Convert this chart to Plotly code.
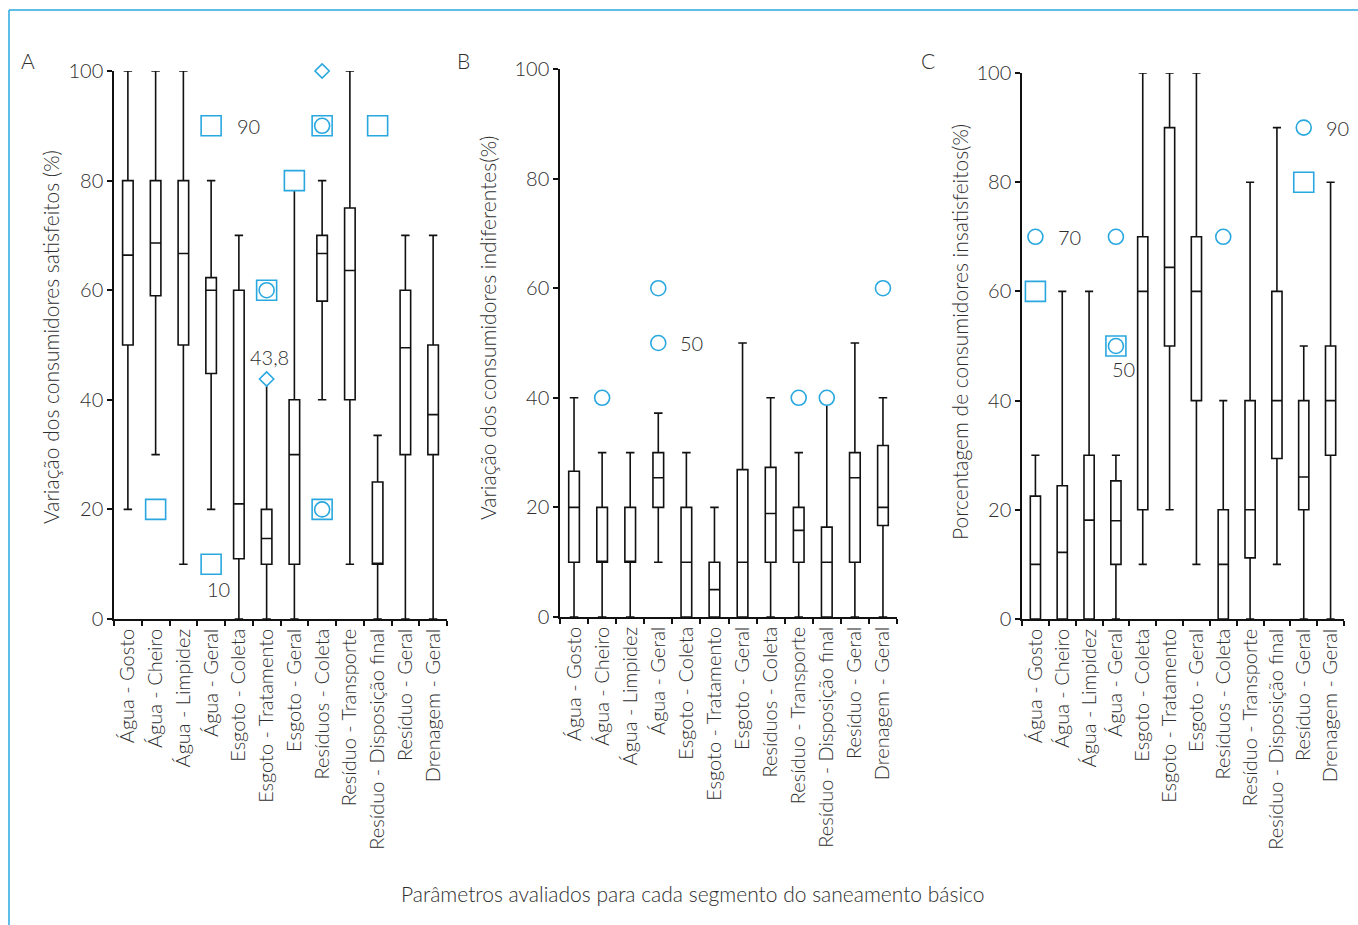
import plotly.graph_objects as go

W, H = 1358, 925

categories = ["Água - Gosto", "Água - Cheiro", "Água - Limpidez", "Água - Geral",
              "Esgoto - Coleta", "Esgoto - Tratamento", "Esgoto - Geral",
              "Resíduos - Coleta", "Resíduo - Transporte", "Resíduo - Disposição final",
              "Resíduo - Geral", "Drenagem - Geral"]

# Panel A - satisfeitos
a_low = [20, 30, 10, 20, 0, 0, 0, 40, 10, 0, 0, 0]
a_q1 = [50, 59, 50, 44.8, 11, 10, 10, 58, 40, 10, 30, 30]
a_med = [66.4, 68.6, 66.7, 60, 21, 14.7, 30, 66.7, 63.6, 10, 49.5, 37.3]
a_q3 = [80, 80, 80, 62.3, 60, 20, 40, 70, 75, 25, 60, 50]
a_high = [100, 100, 100, 80, 70, 43.8, 80, 80, 100, 33.5, 70, 70]
a_out_cat = ["Água - Cheiro", "Água - Geral", "Água - Geral", "Esgoto - Tratamento",
             "Esgoto - Tratamento", "Esgoto - Tratamento", "Esgoto - Geral",
             "Resíduos - Coleta", "Resíduos - Coleta", "Resíduos - Coleta",
             "Resíduos - Coleta", "Resíduos - Coleta", "Resíduo - Disposição final"]
a_out_val = [20, 90, 10, 60, 60, 43.8, 80, 100, 90, 90, 20, 20, 90]
a_out_sym = ["square", "square", "square", "square", "circle", "diamond", "square",
             "diamond", "square", "circle", "square", "circle", "square"]

# Panel B - indiferentes
b_low = [0, 0, 0, 10, 0, 0, 0, 0, 0, 0, 0, 0]
b_q1 = [10, 10, 10, 20, 0, 0, 0, 10, 10, 0, 10, 16.7]
b_med = [20, 10, 10, 25.4, 10, 5, 10, 18.9, 15.8, 10, 25.4, 20]
b_q3 = [26.6, 20, 20, 30, 20, 10, 26.9, 27.3, 20, 16.4, 30, 31.3]
b_high = [40, 30, 30, 37.2, 30, 20, 50, 40, 30, 40, 50, 40]
b_out_cat = ["Água - Cheiro", "Água - Geral", "Água - Geral", "Resíduo - Transporte",
             "Resíduo - Disposição final", "Drenagem - Geral"]
b_out_val = [40, 60, 50, 40, 40, 60]
b_out_sym = ["circle"] * 6

# Panel C - insatisfeitos
c_low = [0, 0, 0, 0, 10, 20, 10, 0, 0, 10, 0, 0]
c_q1 = [0, 0, 0, 10, 20, 50, 40, 0, 11.2, 29.4, 20, 30]
c_med = [10, 12.2, 18.1, 18, 60, 64.4, 60, 10, 20, 40, 26, 40]
c_q3 = [22.5, 24.4, 30, 25.3, 70, 90, 70, 20, 40, 60, 40, 50]
c_high = [30, 60, 60, 30, 100, 100, 100, 40, 80, 90, 50, 80]
c_out_cat = ["Água - Gosto", "Água - Gosto", "Água - Geral", "Água - Geral", "Água - Geral",
             "Resíduos - Coleta", "Resíduo - Geral", "Resíduo - Geral"]
c_out_val = [70, 60, 70, 50, 50, 70, 90, 80]
c_out_sym = ["circle", "square", "circle", "square", "circle", "circle", "circle", "square"]

y_ticks = [0, 20, 40, 60, 80, 100]

BLUE = "#29a8df"
TXT = "#2e2e2e"
FONT = "Lato"
WT = 300

sym_style = {"square": ("square", 20), "circle": ("circle", 15), "diamond": ("diamond", 11)}

fig = go.Figure()

panels = [
    ("x", "y", a_low, a_q1, a_med, a_q3, a_high, a_out_cat, a_out_val, a_out_sym),
    ("x2", "y2", b_low, b_q1, b_med, b_q3, b_high, b_out_cat, b_out_val, b_out_sym),
    ("x3", "y3", c_low, c_q1, c_med, c_q3, c_high, c_out_cat, c_out_val, c_out_sym),
]

for xa, ya, lo, q1, md, q3, hi, oc, ov, osym in panels:
    fig.add_trace(go.Box(
        x=categories, lowerfence=lo, q1=q1, median=md, q3=q3, upperfence=hi,
        xaxis=xa, yaxis=ya, width=0.38, whiskerwidth=0.8,
        line=dict(color="#111111", width=1.6), fillcolor="rgba(255,255,255,0)",
        boxpoints=False, showlegend=False, hoverinfo="skip"))
    for s in ["square", "diamond", "circle"]:
        xs = [c for c, sy in zip(oc, osym) if sy == s]
        vs = [v for v, sy in zip(ov, osym) if sy == s]
        if not xs:
            continue
        sym, size = sym_style[s]
        fig.add_trace(go.Scatter(
            x=xs, y=vs, mode="markers", xaxis=xa, yaxis=ya, cliponaxis=False,
            marker=dict(symbol=sym, size=size, color="white",
                        line=dict(color=BLUE, width=1.6)),
            showlegend=False, hoverinfo="skip"))


def px_x(p):
    return p / W


def px_y(p):
    return 1 - p / H


x_domains = [(114, 447), (560, 897), (1022, 1344)]
y_domains = [(619, 71), (617, 69), (619, 73)]

layout = dict(
    width=W, height=H, autosize=False,
    margin=dict(l=0, r=0, t=0, b=0, pad=0, autoexpand=False),
    paper_bgcolor="white", plot_bgcolor="white",
    font=dict(family=FONT, color=TXT, size=17, weight=WT),
    showlegend=False,
)
for i, ((x0, x1), (yb, yt)) in enumerate(zip(x_domains, y_domains)):
    sfx = "" if i == 0 else str(i + 1)
    layout["xaxis" + sfx] = dict(
        domain=[px_x(x0), px_x(x1)], anchor="y" + sfx, type="category",
        categoryorder="array", categoryarray=categories, range=[-0.5, 11.5],
        showline=True, linecolor="#111111", linewidth=1.5, showgrid=False,
        ticks="outside", tickson="boundaries", ticklen=5, tickcolor="#111111",
        tickwidth=1.5, tickangle=-90, automargin=False,
        tickfont=dict(family=FONT, size=20, color=TXT, weight=WT))
    layout["yaxis" + sfx] = dict(
        domain=[px_y(yb), px_y(yt)], anchor="x" + sfx, range=[0, 100],
        tickvals=y_ticks, showline=True, linecolor="#111111", linewidth=1.5,
        showgrid=False, zeroline=False, ticks="outside", ticklen=5,
        tickcolor="#111111", tickwidth=1.5, automargin=False,
        tickfont=dict(family=FONT, size=20, color=TXT, weight=WT))

fig.update_layout(**layout)

annotations = []
# panel letters
for txt, x, y in [("A", 28, 60), ("B", 463, 60), ("C", 928, 60)]:
    annotations.append(dict(text=txt, x=px_x(x), y=px_y(y), xref="paper", yref="paper",
                            showarrow=False, font=dict(size=21, color=TXT, weight=WT),
                            xanchor="center", yanchor="middle"))
# y-axis titles
for txt, x, y in [("Variação dos consumidores satisfeitos (%)", 50, 337),
                  ("Variação dos consumidores indiferentes(%)", 488, 328),
                  ("Porcentagem de consumidores insatisfeitos(%)", 959, 332)]:
    annotations.append(dict(text=txt, x=px_x(x), y=px_y(y), xref="paper", yref="paper",
                            showarrow=False, textangle=-90,
                            font=dict(size=21, color=TXT, weight=WT),
                            xanchor="center", yanchor="middle"))
# x title
annotations.append(dict(text="Parâmetros avaliados para cada segmento do saneamento básico",
                        x=px_x(693), y=px_y(893), xref="paper", yref="paper",
                        showarrow=False, font=dict(size=21, color=TXT, weight=WT),
                        xanchor="center", yanchor="middle"))
# outlier value labels
val_labels = [
    ("x", "y", "Água - Geral", 90, "90", 37, 0),
    ("x", "y", "Água - Geral", 10, "10", 7, -25),
    ("x", "y", "Esgoto - Tratamento", 43.8, "43,8", 3, 22),
    ("x2", "y2", "Água - Geral", 50, "50", 33, 0),
    ("x3", "y3", "Água - Gosto", 70, "70", 34, 0),
    ("x3", "y3", "Água - Geral", 50, "50", 8, -23),
    ("x3", "y3", "Resíduo - Geral", 90, "90", 34, 0),
]
for xa, ya, cat, v, txt, dx, dy in val_labels:
    annotations.append(dict(text=txt, x=cat, y=v, xref=xa, yref=ya, showarrow=False,
                            xshift=dx, yshift=dy, font=dict(size=20, color=TXT, weight=WT),
                            xanchor="center", yanchor="middle"))
fig.update_layout(annotations=annotations)

# frame lines
fig.update_layout(shapes=[
    dict(type="line", xref="paper", yref="paper", x0=px_x(9), x1=1.0,
         y0=px_y(10), y1=px_y(10), line=dict(color=BLUE, width=1.5)),
    dict(type="line", xref="paper", yref="paper", x0=px_x(9), x1=px_x(9),
         y0=0, y1=px_y(10), line=dict(color=BLUE, width=1.5)),
])

fig.write_html("out.html")
